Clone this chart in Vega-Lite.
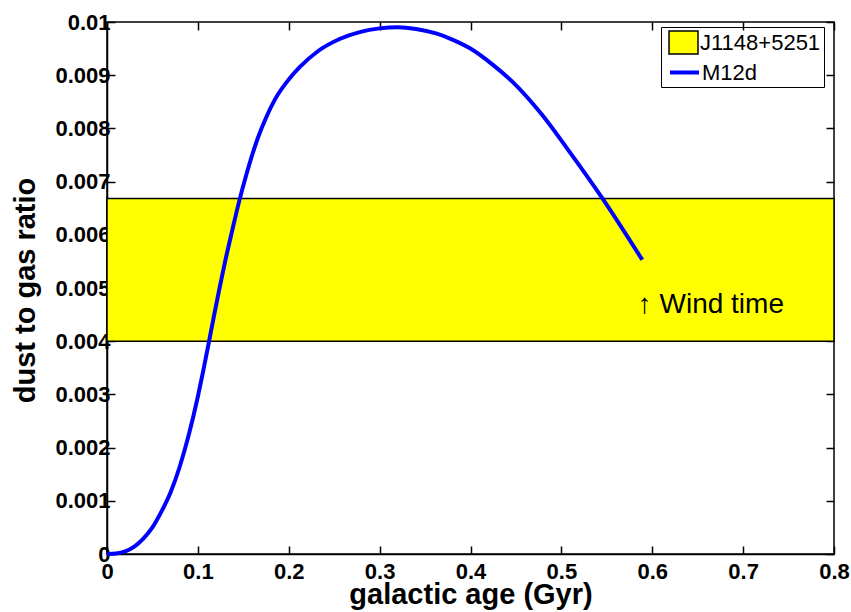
{
  "$schema": "https://vega.github.io/schema/vega-lite/v6.json",
  "width": 727,
  "height": 532,
  "autosize": "none",
  "padding": {"left": 107, "top": 22, "right": 17, "bottom": 58},
  "background": "white",
  "config": {
    "view": {"stroke": "black", "strokeWidth": 1.5},
    "font": "Liberation Sans"
  },
  "datasets": {
    "band": [{"series": "J1148+5251", "x0": 0, "x1": 0.8, "lo": 0.004, "hi": 0.00668}],
    "curve": [
      {"series": "M12d", "x": 0, "y": 0},
      {"series": "M12d", "x": 0.01, "y": 0.00001},
      {"series": "M12d", "x": 0.02, "y": 0.00005},
      {"series": "M12d", "x": 0.03, "y": 0.00014},
      {"series": "M12d", "x": 0.04, "y": 0.00029},
      {"series": "M12d", "x": 0.05, "y": 0.0005},
      {"series": "M12d", "x": 0.06, "y": 0.0008},
      {"series": "M12d", "x": 0.07, "y": 0.00116},
      {"series": "M12d", "x": 0.08, "y": 0.00164},
      {"series": "M12d", "x": 0.09, "y": 0.00224},
      {"series": "M12d", "x": 0.1, "y": 0.00296},
      {"series": "M12d", "x": 0.106, "y": 0.00345},
      {"series": "M12d", "x": 0.112, "y": 0.00397},
      {"series": "M12d", "x": 0.118, "y": 0.0045},
      {"series": "M12d", "x": 0.124, "y": 0.00501},
      {"series": "M12d", "x": 0.13, "y": 0.0055},
      {"series": "M12d", "x": 0.1375, "y": 0.00606},
      {"series": "M12d", "x": 0.145, "y": 0.0066},
      {"series": "M12d", "x": 0.154, "y": 0.00717},
      {"series": "M12d", "x": 0.166, "y": 0.00782},
      {"series": "M12d", "x": 0.175, "y": 0.0082},
      {"series": "M12d", "x": 0.185, "y": 0.00855},
      {"series": "M12d", "x": 0.2, "y": 0.00892},
      {"series": "M12d", "x": 0.212, "y": 0.00915},
      {"series": "M12d", "x": 0.232, "y": 0.00945},
      {"series": "M12d", "x": 0.256, "y": 0.00968},
      {"series": "M12d", "x": 0.278, "y": 0.00981},
      {"series": "M12d", "x": 0.3, "y": 0.00988},
      {"series": "M12d", "x": 0.32, "y": 0.0099},
      {"series": "M12d", "x": 0.34, "y": 0.00987},
      {"series": "M12d", "x": 0.363, "y": 0.00978},
      {"series": "M12d", "x": 0.38, "y": 0.00967},
      {"series": "M12d", "x": 0.399, "y": 0.00951},
      {"series": "M12d", "x": 0.425, "y": 0.00919},
      {"series": "M12d", "x": 0.446, "y": 0.00888},
      {"series": "M12d", "x": 0.479, "y": 0.00825},
      {"series": "M12d", "x": 0.506, "y": 0.00763},
      {"series": "M12d", "x": 0.545, "y": 0.00669},
      {"series": "M12d", "x": 0.589, "y": 0.00553}
    ],
    "note": [{"x": 0.584, "y": 0.00453, "label": "↑ Wind time"}]
  },
  "layer": [
    {
      "data": {"name": "band"},
      "mark": {"type": "rect", "stroke": "black", "strokeWidth": 1.5},
      "encoding": {
        "x": {
          "field": "x0", "type": "quantitative",
          "scale": {"domain": [0, 0.8], "nice": false},
          "axis": {
            "orient": "bottom",
            "values": [0, 0.1, 0.2, 0.3, 0.4, 0.5, 0.6, 0.7, 0.8],
            "format": ".1~f",
            "grid": false,
            "labelFont": "Liberation Sans", "labelFontSize": 22, "labelFontWeight": "bold", "labelColor": "black",
            "labelPadding": 15, "labelFlush": false, "labelOverlap": false,
            "tickSize": -8, "tickColor": "black", "tickWidth": 1.5,
            "domainColor": "black", "domainWidth": 1.5,
            "title": "galactic age (Gyr)",
            "titleFont": "Liberation Sans", "titleFontSize": 29, "titleFontWeight": "bold", "titleColor": "black",
            "titleX": 363.5, "titleY": 49, "titleBaseline": "alphabetic", "titleAlign": "center"
          }
        },
        "x2": {"field": "x1"},
        "y": {
          "field": "lo", "type": "quantitative",
          "scale": {"domain": [0, 0.01], "nice": false},
          "axis": {
            "orient": "left",
            "values": [0, 0.001, 0.002, 0.003, 0.004, 0.005, 0.006, 0.007, 0.008, 0.009, 0.01],
            "format": ".3~f",
            "grid": false,
            "labelFont": "Liberation Sans", "labelFontSize": 22, "labelFontWeight": "bold", "labelColor": "black",
            "labelPadding": 5, "labelFlush": false, "labelOverlap": false,
            "tickSize": -8, "tickColor": "black", "tickWidth": 1.5,
            "domainColor": "black", "domainWidth": 1.5,
            "title": "dust to gas ratio",
            "titleFont": "Liberation Sans", "titleFontSize": 29, "titleFontWeight": "bold", "titleColor": "black",
            "titleX": -82, "titleY": 268, "titleAngle": -90, "titleBaseline": "middle", "titleAlign": "center"
          }
        },
        "y2": {"field": "hi"},
        "fill": {
          "field": "series", "type": "nominal",
          "scale": {"domain": ["J1148+5251"], "range": ["#FFFF00"]},
          "legend": {
            "orient": "none", "legendX": 554, "legendY": 5,
            "title": " ", "titleOrient": "bottom", "titleFontSize": 22, "titlePadding": 6,
            "labelFont": "Liberation Sans", "labelFontSize": 22, "labelColor": "black",
            "strokeColor": "black",
            "padding": 3, "labelOffset": 11,
            "symbolSize": 529,
            "symbolType": "M-0.65,-1L1.87,-1L1.87,1L-0.65,1Z",
            "symbolStrokeColor": "black", "symbolStrokeWidth": 1.5, "symbolOpacity": 1
          }
        }
      }
    },
    {
      "data": {"name": "curve"},
      "mark": {"type": "line", "strokeWidth": 4, "interpolate": "monotone"},
      "encoding": {
        "x": {
          "field": "x", "type": "quantitative",
          "axis": {
            "orient": "top",
            "values": [0, 0.1, 0.2, 0.3, 0.4, 0.5, 0.6, 0.7, 0.8],
            "labels": false, "title": null, "grid": false, "domain": false,
            "tickSize": -8, "tickColor": "black", "tickWidth": 1.5
          }
        },
        "y": {
          "field": "y", "type": "quantitative",
          "axis": {
            "orient": "right",
            "values": [0, 0.001, 0.002, 0.003, 0.004, 0.005, 0.006, 0.007, 0.008, 0.009, 0.01],
            "labels": false, "title": null, "grid": false, "domain": false,
            "tickSize": -8, "tickColor": "black", "tickWidth": 1.5
          }
        },
        "stroke": {
          "field": "series", "type": "nominal",
          "scale": {"domain": ["M12d"], "range": ["#0000FF"]},
          "legend": {
            "orient": "none", "legendX": 554, "legendY": 34,
            "title": null,
            "labelFont": "Liberation Sans", "labelFontSize": 22, "labelColor": "black",
            "padding": 3, "labelOffset": 11,
            "symbolSize": 529,
            "symbolType": "M-0.65,0L1.87,0",
            "symbolStrokeWidth": 4, "symbolOpacity": 1
          }
        }
      }
    },
    {
      "data": {"name": "note"},
      "mark": {"type": "text", "align": "left", "baseline": "alphabetic", "font": "Liberation Sans", "fontSize": 28, "color": "black"},
      "encoding": {
        "x": {"field": "x", "type": "quantitative", "axis": null},
        "y": {"field": "y", "type": "quantitative", "axis": null},
        "text": {"field": "label"}
      }
    }
  ],
  "resolve": {"axis": {"x": "independent", "y": "independent"}}
}
